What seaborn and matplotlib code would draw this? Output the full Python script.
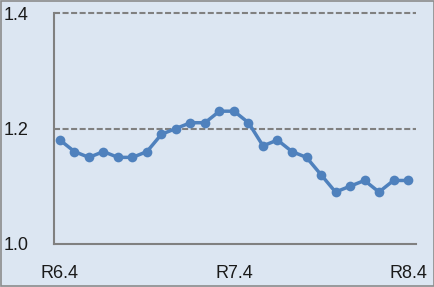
import matplotlib
matplotlib.use("Agg")
import matplotlib.pyplot as plt
import seaborn as sns
import pandas as pd
from matplotlib.patches import Rectangle

values = [1.18, 1.16, 1.15, 1.16, 1.15, 1.15, 1.16, 1.19, 1.20, 1.21, 1.21, 1.23, 1.23,
          1.21, 1.17, 1.18, 1.16, 1.15, 1.12, 1.09, 1.10, 1.11, 1.09, 1.11, 1.11]
tick_positions = [0, 12, 24]
tick_labels = ["R6.4", "R7.4", "R8.4"]
y_ticks = [1.0, 1.2, 1.4]
y_labels = ["1.0", "1.2", "1.4"]

df = pd.DataFrame({"x": range(len(values)), "y": values})

sns.set_style("white")
plt.rcParams['font.family'] = ['Liberation Sans', 'DejaVu Sans']

bg = "#DCE6F2"
fig = plt.figure(figsize=(4.35, 2.87), dpi=100, facecolor=bg)
ax = fig.add_axes([54/435, 1-244/287, (416-54)/435, (244-13)/287])
ax.set_facecolor(bg)

sns.lineplot(data=df, x="x", y="y", ax=ax, color="#4F81BD", linewidth=2.5,
             marker="o", markersize=7, markeredgewidth=0, zorder=3)

ax.set_xlim(-0.41, 24.55)
ax.set_ylim(1.0, 1.4)
ax.set_xticks(tick_positions)
ax.set_xticklabels(tick_labels, fontsize=13, color="#1a1a1a")
ax.set_yticks(y_ticks)
ax.set_yticklabels(y_labels, fontsize=13, color="#1a1a1a")
ax.tick_params(axis="both", length=0)
ax.tick_params(axis="y", pad=18)
ax.tick_params(axis="x", pad=15)
ax.set_xlabel("")
ax.set_ylabel("")

for y in [1.2, 1.4]:
    ax.axhline(y, color="#808080", linestyle=(0, (2.9, 1.2)), linewidth=1.5,
               zorder=1, clip_on=False)

for s in ["top", "right"]:
    ax.spines[s].set_visible(False)
for s in ["left", "bottom"]:
    ax.spines[s].set_color("#808080")
    ax.spines[s].set_linewidth(1.5)

fig.patches.append(Rectangle((0.0015, 0.002), 0.997, 0.996, transform=fig.transFigure,
                             fill=False, edgecolor="#8C8C8C", linewidth=1.2))

fig.savefig("out.png", dpi=100, facecolor=bg)
